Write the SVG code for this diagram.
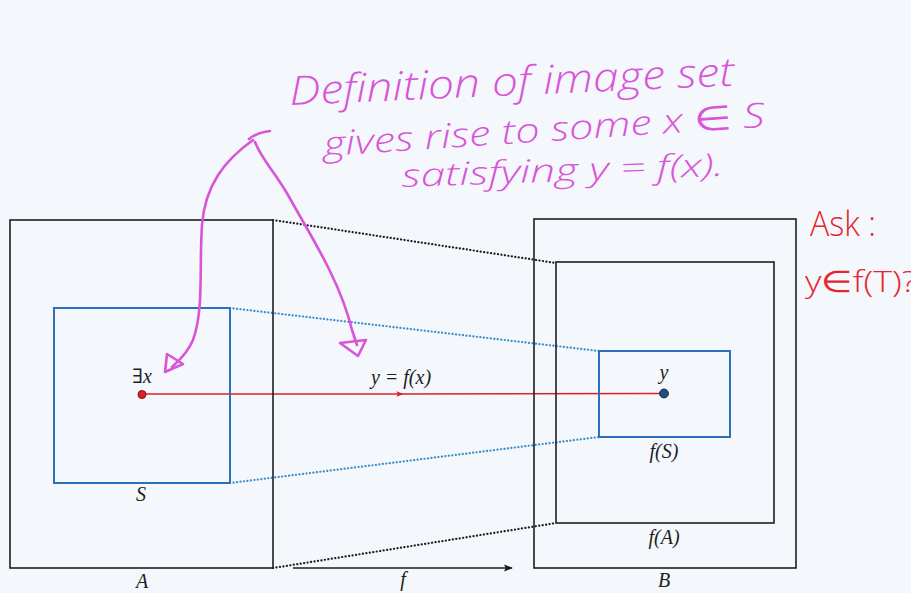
<svg xmlns="http://www.w3.org/2000/svg" width="911" height="593" viewBox="0 0 911 593">
<defs>
<style>
.box{fill:none;stroke:#1e1e1e;stroke-width:1.6}
.blue{fill:none;stroke:#2d6fb8;stroke-width:2}
.dotk{fill:none;stroke:#1e1e1e;stroke-width:2.2;stroke-dasharray:0.1 3.4;stroke-linecap:round}
.dotb{fill:none;stroke:#3a8ccc;stroke-width:2.2;stroke-dasharray:0.1 3.4;stroke-linecap:round}
.math{font-family:"Liberation Serif","DejaVu Serif",serif;font-style:italic;font-size:20px;fill:#1e1e1e;text-anchor:middle}
.hand{font-family:"Open Sans","DejaVu Sans",sans-serif;font-style:italic;font-weight:300;fill:#d955d8}
.red{font-family:"Open Sans","DejaVu Sans",sans-serif;font-weight:300;fill:#e5262c}
.mag{fill:none;stroke:#d955d8;stroke-width:2.6;stroke-linecap:round;stroke-linejoin:round}
</style>
<marker id="ar" viewBox="0 0 10 10" refX="8" refY="5" markerWidth="7" markerHeight="7" orient="auto" markerUnits="userSpaceOnUse">
<path d="M0,1 L10,5 L0,9 L2,5 z" fill="#d9232a"/>
</marker>
<marker id="ak" viewBox="0 0 10 10" refX="9" refY="5" markerWidth="9" markerHeight="9" orient="auto" markerUnits="userSpaceOnUse">
<path d="M0,1 L10,5 L0,9 L2,5 z" fill="#1e1e1e"/>
</marker>
</defs>
<rect width="911" height="593" fill="#f4f7fb"/>

<g id="connectors">
<line class="dotk" x1="273" y1="220" x2="556" y2="263"/>
<line class="dotk" x1="273" y1="568" x2="556" y2="523"/>
<line class="dotb" x1="230" y1="308" x2="599" y2="351"/>
<line class="dotb" x1="230" y1="483" x2="599" y2="437"/>
<path d="M142,394 L402,394 L664,393.5" fill="none" stroke="#d9232a" stroke-width="1.5" marker-mid="url(#ar)"/>
<line x1="293" y1="568" x2="512" y2="568" stroke="#1e1e1e" stroke-width="1.4" marker-end="url(#ak)"/>
</g>

<g id="node-A">
<rect class="box" x="10" y="220" width="263" height="348"/>
<text class="math" x="142" y="588">A</text>
</g>
<g id="node-S">
<rect class="blue" x="54" y="308" width="176" height="175"/>
<text class="math" x="141" y="501">S</text>
</g>
<g id="node-x">
<circle cx="142" cy="394.5" r="4" fill="#d9232a" stroke="#7a1010" stroke-width="1"/>
<text class="math" x="142" y="383">∃x</text>
</g>
<g id="node-B">
<rect class="box" x="534" y="219" width="262" height="349"/>
<text class="math" x="664" y="587">B</text>
</g>
<g id="node-fA">
<rect class="box" x="556" y="262" width="218" height="261"/>
<text class="math" x="664" y="544">f(A)</text>
</g>
<g id="node-fS">
<rect class="blue" x="599" y="351" width="131" height="86"/>
<text class="math" x="664" y="458">f(S)</text>
</g>
<g id="node-y">
<circle cx="664" cy="393.5" r="4.4" fill="#1d4f86" stroke="#0f1f33" stroke-width="1"/>
<text class="math" x="664" y="379">y</text>
</g>
<text class="math" x="401" y="384">y = f(x)</text>
<text class="math" x="403" y="586">f</text>

<g id="annotation">
<text class="hand" font-size="40" transform="translate(290,105) rotate(-2.5)" textLength="445" lengthAdjust="spacingAndGlyphs">Definition of image set</text>
<text class="hand" font-size="34" transform="translate(324,156) rotate(-3.8)" textLength="442" lengthAdjust="spacingAndGlyphs">gives rise to some x ∈ S</text>
<text class="hand" font-size="32" transform="translate(402,187) rotate(-2)" textLength="322" lengthAdjust="spacingAndGlyphs">satisfying y = f(x).</text>
<path class="mag" d="M249,139 C255,134 262,132 270,131"/>
<path class="mag" d="M253,140 C225,160 205,185 202,225 C199,270 204,310 193,340 C188,352 180,360 172,367"/>
<polygon class="mag" points="167,354 183,364 165,372"/>
<path class="mag" d="M255,142 C262,160 275,172 288,195 C310,235 340,280 352,330 L357,345"/>
<polygon class="mag" points="340,343 366,340 358,356"/>
</g>

<g id="ask">
<text class="red" font-size="34" x="810" y="236" textLength="66" lengthAdjust="spacingAndGlyphs">Ask :</text>
<text class="red" font-size="30" x="805" y="292" textLength="112" lengthAdjust="spacingAndGlyphs">y∈f(T)?</text>
</g>
</svg>
